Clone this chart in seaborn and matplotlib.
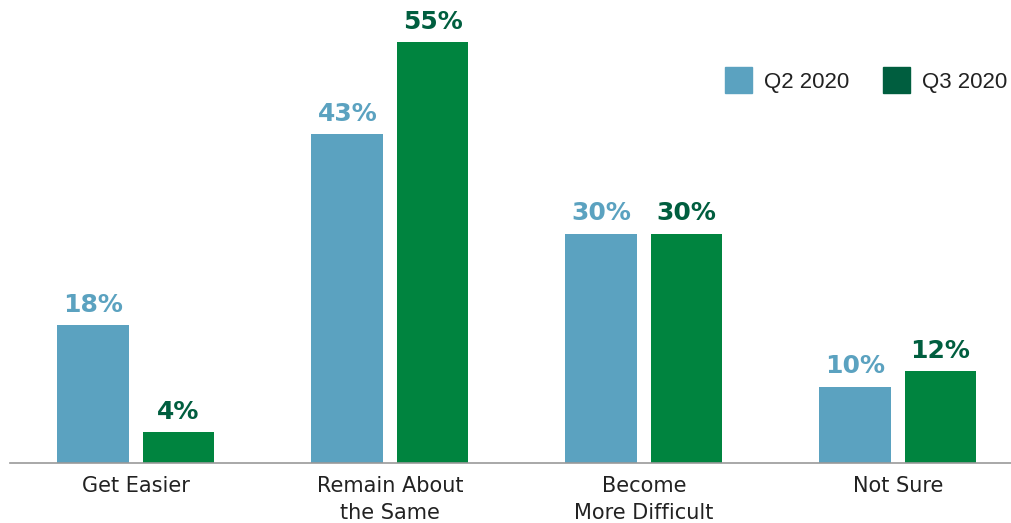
import pandas as pd
import matplotlib.pyplot as plt
import seaborn as sns
from matplotlib.patches import Patch

# Data
categories = ["Get Easier", "Remain About\nthe Same", "Become\nMore Difficult", "Not Sure"]
q2_2020 = [18, 43, 30, 10]
q3_2020 = [4, 55, 30, 12]
series = ["Q2 2020", "Q3 2020"]

blue = "#5BA2C0"
green = "#00843F"
dark_green = "#005E3F"

df = pd.DataFrame({
    "Kategori": categories * 2,
    "Andel": q2_2020 + q3_2020,
    "Serie": [series[0]] * 4 + [series[1]] * 4,
})

sns.set_style("white")
plt.rcParams["font.family"] = ["DejaVu Sans"]

fig = plt.figure(figsize=(10.11, 5.23), dpi=100)
ax = fig.add_axes([10 / 1011, 60 / 523, 1 - 10 / 1011, 459 / 523])

sns.barplot(data=df, x="Kategori", y="Andel", hue="Serie", order=categories,
            palette=[blue, green], saturation=1, width=0.67, gap=0.155,
            linewidth=0, legend=False, ax=ax)

# Etiketter ovanför staplarna
label_colors = [blue, dark_green]
for cont, col in zip(ax.containers, label_colors):
    ax.bar_label(cont, labels=[f"{v:.0f}%" for v in cont.datavalues],
                 padding=6, color=col, fontsize=18, fontweight="bold")

ax.set_xlim(-0.496, 3.445)
ax.set_ylim(0, 60)
ax.set_xlabel("")
ax.set_ylabel("")
ax.set_yticks([])
ax.tick_params(axis="x", length=0, pad=9, labelsize=15, labelcolor="#222222")
for lab in ax.get_xticklabels():
    lab.set_linespacing(1.45)
for side in ["top", "right", "left"]:
    ax.spines[side].set_visible(False)
ax.spines["bottom"].set_color("#999999")
ax.spines["bottom"].set_linewidth(1.2)

handles = [Patch(color=blue, label=series[0]), Patch(color=dark_green, label=series[1])]
ax.legend(handles=handles, loc="center right", bbox_to_anchor=(0.996, 0.834), ncol=2,
          frameon=False, prop={"family": "Liberation Sans", "size": 16},
          handlelength=1.2, handleheight=1.45, columnspacing=1.5,
          handletextpad=0.55, labelcolor="#222222", borderpad=0, borderaxespad=0)

fig.savefig("out.png", dpi=100)
